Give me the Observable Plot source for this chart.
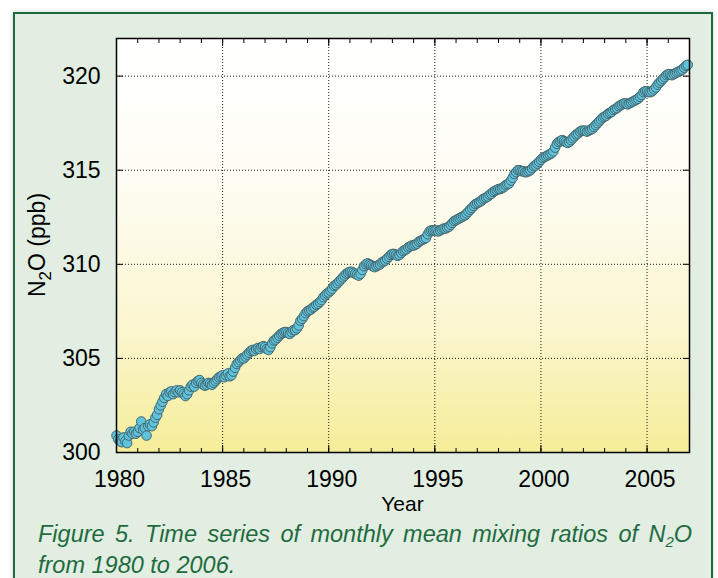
<!DOCTYPE html>
<html><head><meta charset="utf-8">
<script src="https://cdn.jsdelivr.net/npm/d3@7"></script>
<script src="https://cdn.jsdelivr.net/npm/@observablehq/plot@0.6"></script>
<style>
html,body{margin:0;padding:0;width:718px;height:578px;overflow:hidden;background:#fff;font-family:"Liberation Sans",Arial,sans-serif;}
#panel{position:absolute;left:13px;top:12px;width:700px;height:640px;box-sizing:border-box;border:2px solid #1d6a3c;background:#e1eee1;box-shadow:0 0 5px rgba(0,0,0,0.18);}
#chart{position:absolute;left:0;top:0;}
#caption{position:absolute;left:38px;top:519px;width:654px;font-style:italic;font-size:23.5px;line-height:31px;color:#1f6b3f;}
#caption .l1{text-align:justify;text-align-last:justify;white-space:normal;}
#caption .l2{text-align:left;}
#caption sub{font-size:15px;vertical-align:-5px;line-height:0;}
</style></head>
<body>
<div id="panel"></div>
<div id="chart"></div>
<div id="caption"><div class="l1">Figure 5. Time series of monthly mean mixing ratios of N<sub>2</sub>O</div><div class="l2">from 1980 to 2006.</div></div>
<script>
// Monthly mean N2O (ppb), Jan..Dec for each year
const n2o1980 = [300.9, 300.7, 300.6, 300.55, 300.8, 300.6, 300.5, 300.9, 301.1, 301.0, 301.1, 301.0];
const n2o1981 = [301.1, 301.3, 301.65, 301.2, 301.3, 300.9, 301.4, 301.5, 301.4, 301.6, 301.85, 302.0];
const n2o1982 = [302.3, 302.5, 302.7, 302.9, 303.1, 303.0, 303.2, 303.25, 303.1, 303.2, 303.3, 303.2];
const n2o1983 = [303.3, 303.2, 303.1, 303.0, 303.1, 303.3, 303.5, 303.6, 303.5, 303.7, 303.8, 303.85];
const n2o1984 = [303.7, 303.6, 303.55, 303.6, 303.7, 303.65, 303.6, 303.7, 303.8, 303.9, 304.0, 304.05];
const n2o1985 = [304.1, 304.0, 304.1, 304.2, 304.05, 304.1, 304.3, 304.5, 304.7, 304.8, 304.9, 305.0];
const n2o1986 = [305.0, 305.1, 305.2, 305.3, 305.4, 305.45, 305.4, 305.5, 305.55, 305.5, 305.6, 305.65];
const n2o1987 = [305.6, 305.5, 305.45, 305.6, 305.8, 305.95, 306.0, 306.1, 306.2, 306.3, 306.35, 306.4];
const n2o1988 = [306.4, 306.35, 306.3, 306.4, 306.5, 306.5, 306.6, 306.75, 307.0, 307.1, 307.25, 307.4];
const n2o1989 = [307.5, 307.55, 307.6, 307.7, 307.75, 307.85, 307.9, 308.0, 308.1, 308.25, 308.35, 308.45];
const n2o1990 = [308.5, 308.6, 308.7, 308.85, 308.9, 309.0, 309.1, 309.2, 309.3, 309.4, 309.5, 309.55];
const n2o1991 = [309.6, 309.6, 309.55, 309.5, 309.45, 309.4, 309.5, 309.7, 309.9, 310.0, 310.05, 310.0];
const n2o1992 = [309.95, 309.9, 309.85, 309.9, 309.95, 310.0, 310.1, 310.15, 310.2, 310.3, 310.4, 310.5];
const n2o1993 = [310.55, 310.55, 310.5, 310.45, 310.5, 310.6, 310.7, 310.75, 310.8, 310.9, 310.95, 311.0];
const n2o1994 = [311.0, 311.05, 311.1, 311.2, 311.25, 311.3, 311.35, 311.4, 311.6, 311.75, 311.8, 311.8];
const n2o1995 = [311.8, 311.8, 311.75, 311.8, 311.85, 311.9, 311.9, 311.95, 312.0, 312.1, 312.2, 312.3];
const n2o1996 = [312.35, 312.4, 312.45, 312.5, 312.55, 312.6, 312.7, 312.8, 312.9, 313.0, 313.1, 313.2];
const n2o1997 = [313.25, 313.3, 313.35, 313.45, 313.5, 313.55, 313.6, 313.7, 313.75, 313.85, 313.9, 313.95];
const n2o1998 = [314.0, 314.0, 314.05, 314.1, 314.2, 314.25, 314.3, 314.45, 314.6, 314.8, 314.9, 315.0];
const n2o1999 = [315.0, 314.95, 314.95, 314.9, 314.9, 314.95, 315.0, 315.1, 315.2, 315.25, 315.35, 315.45];
const n2o2000 = [315.55, 315.65, 315.7, 315.75, 315.8, 315.85, 315.9, 316.0, 316.2, 316.4, 316.5, 316.55];
const n2o2001 = [316.6, 316.55, 316.5, 316.45, 316.5, 316.6, 316.7, 316.8, 316.9, 316.95, 317.05, 317.1];
const n2o2002 = [317.1, 317.1, 317.05, 317.1, 317.15, 317.2, 317.3, 317.4, 317.5, 317.6, 317.7, 317.8];
const n2o2003 = [317.85, 317.9, 318.0, 318.05, 318.1, 318.2, 318.25, 318.3, 318.4, 318.45, 318.5, 318.55];
const n2o2004 = [318.55, 318.5, 318.55, 318.6, 318.65, 318.7, 318.75, 318.8, 318.9, 319.0, 319.15, 319.2];
const n2o2005 = [319.2, 319.15, 319.15, 319.2, 319.3, 319.4, 319.55, 319.65, 319.75, 319.85, 319.95, 320.05];
const n2o2006 = [320.1, 320.1, 320.05, 320.1, 320.15, 320.2, 320.25, 320.3, 320.35, 320.45, 320.55, 320.6];

const years = [1980,1981,1982,1983,1984,1985,1986,1987,1988,1989,1990,1991,1992,1993,1994,1995,1996,1997,1998,1999,2000,2001,2002,2003,2004,2005,2006];
const series = [n2o1980,n2o1981,n2o1982,n2o1983,n2o1984,n2o1985,n2o1986,n2o1987,n2o1988,n2o1989,n2o1990,n2o1991,n2o1992,n2o1993,n2o1994,n2o1995,n2o1996,n2o1997,n2o1998,n2o1999,n2o2000,n2o2001,n2o2002,n2o2003,n2o2004,n2o2005,n2o2006];

const xTickLabels = [1980, 1985, 1990, 1995, 2000, 2005];
const xGrid = [1985, 1990, 1995, 2000, 2005];
const xMinor = years;
const yTickLabels = [300, 305, 310, 315, 320];
const yGrid = [305, 310, 315, 320];

const data = [];
years.forEach((yr, i) => series[i].forEach((v, m) => data.push({t: yr + m / 12, v})));

const blank = () => "";
const plot = Plot.plot({
  width: 718, height: 520,
  marginLeft: 116, marginRight: 29, marginTop: 38, marginBottom: 68,
  style: {background: "transparent", fontFamily: "'Liberation Sans', Arial, sans-serif", fontSize: "23px", color: "#000", overflow: "visible"},
  x: {domain: [1980, 2007], label: null},
  y: {domain: [300, 322], label: null},
  marks: [
    Plot.frame({fill: "url(#bggrad)", stroke: null}),
    Plot.gridX(xGrid, {stroke: "#000", strokeOpacity: 0.9, strokeWidth: 1, strokeDasharray: "1,2"}),
    Plot.gridY(yGrid, {stroke: "#000", strokeOpacity: 0.9, strokeWidth: 1, strokeDasharray: "1,2"}),
    Plot.line(data, {x: "t", y: "v", stroke: "#e4261e", strokeWidth: 1}),
    Plot.dot(data, {x: "t", y: "v", r: 4.8, fill: "#5fc4db", stroke: "#44666f", strokeWidth: 1}),
    Plot.axisX(xTickLabels, {anchor: "bottom", tickSize: 0, tickPadding: 18, dx: 3, tickFormat: d => String(d), fontSize: 23, label: null}),
    Plot.axisX(xMinor, {anchor: "bottom", tickSize: -4, tickFormat: blank, label: null}),
    Plot.axisX(xTickLabels, {anchor: "bottom", tickSize: -7, tickFormat: blank, label: null}),
    Plot.axisX(xMinor, {anchor: "top", tickSize: -4, tickFormat: blank, label: null}),
    Plot.axisX(xTickLabels, {anchor: "top", tickSize: -7, tickFormat: blank, label: null}),
    Plot.axisY(yTickLabels, {anchor: "left", tickSize: 0, tickPadding: 16, fontSize: 23, label: null}),
    Plot.axisY(yTickLabels, {anchor: "left", tickSize: -7, tickFormat: blank, label: null}),
    Plot.axisY(yTickLabels, {anchor: "right", tickSize: -7, tickFormat: blank, label: null}),
    Plot.frame({stroke: "#000", strokeWidth: 1.5})
  ]
});

const svg = d3.select(plot);
svg.insert("defs", ":first-child").html(
  '<linearGradient id="bggrad" x1="0" y1="0" x2="0" y2="1">' +
  '<stop offset="0" stop-color="#ffffff"/>' +
  '<stop offset="0.35" stop-color="#fefdf3"/>' +
  '<stop offset="0.7" stop-color="#fbf6cf"/>' +
  '<stop offset="1" stop-color="#f5ed98"/>' +
  '</linearGradient>');

svg.append("text")
  .attr("x", 402.5).attr("y", 511)
  .attr("text-anchor", "middle")
  .attr("font-size", 21)
  .attr("fill", "#000")
  .text("Year");

const yl = svg.append("text")
  .attr("transform", "translate(45,245) rotate(-90)")
  .attr("text-anchor", "middle")
  .attr("font-size", 23)
  .attr("fill", "#000");
yl.append("tspan").text("N");
yl.append("tspan").attr("dy", 6).attr("font-size", 17).text("2");
yl.append("tspan").attr("dy", -6).text("O (ppb)");

document.getElementById("chart").appendChild(plot);
</script>
</body></html>
